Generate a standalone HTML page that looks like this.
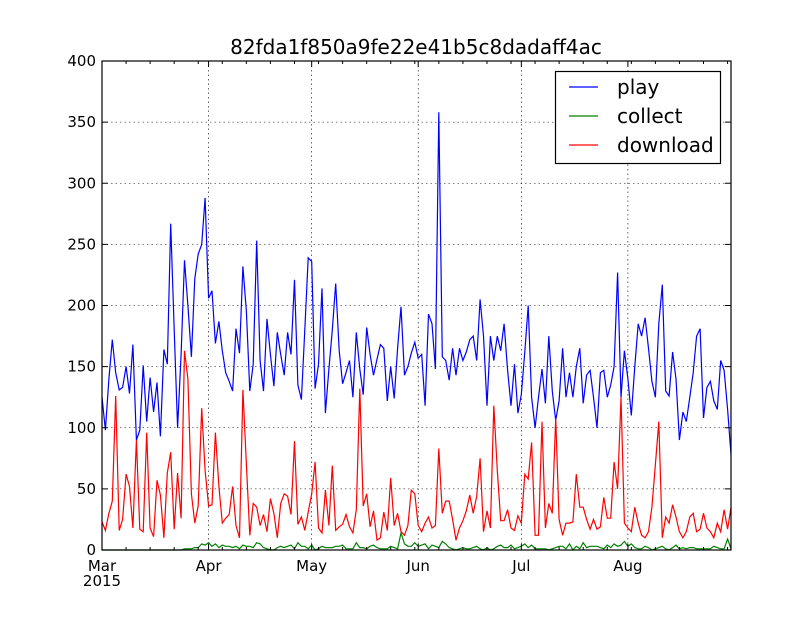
<!DOCTYPE html>
<html><head><meta charset="utf-8"><style>
body{margin:0;background:#fff;}
svg text{font-family:"DejaVu Sans","Liberation Sans",sans-serif;}
</style></head><body>
<svg id="chart" width="812" height="612" xmlns="http://www.w3.org/2000/svg">
<rect x="0" y="0" width="812" height="612" fill="#fff"/>
<text x="416" y="54" font-size="20" text-anchor="middle">82fda1f850a9fe22e41b5c8dadaff4ac</text>
<g id="grid"></g><g id="series"></g><g id="axes"></g>
<g>
<rect x="555.5" y="71.5" width="165" height="92" fill="#fff" stroke="#000" stroke-width="1.2"/>
<line x1="569" y1="87" x2="598" y2="87" stroke="#0000ff" stroke-width="1.2"/>
<text x="617" y="94" font-size="20">play</text>
<line x1="569" y1="116" x2="598" y2="116" stroke="#008000" stroke-width="1.2"/>
<text x="617" y="123" font-size="20">collect</text>
<line x1="569" y1="145" x2="598" y2="145" stroke="#ff0000" stroke-width="1.2"/>
<text x="617" y="152" font-size="20">download</text>
</g>
</svg>
<script>
const play=[125,98,140,172,145,131,133,150,128,168,90,98,151,105,141,113,137,93,164,152,267,180,100,160,237,200,158,222,242,250,288,206,212,169,187,163,145,138,130,181,161,232,195,130,152,253,155,130,189,160,134,178,160,143,178,160,221,135,123,180,239,236,132,152,214,112,148,180,218,163,136,145,155,125,178,148,127,182,160,143,156,168,165,122,150,124,165,199,143,150,161,170,157,160,118,193,185,148,358,158,155,139,165,143,165,155,162,172,175,155,205,175,118,175,155,175,163,185,147,118,152,112,127,162,200,125,100,125,148,120,175,130,106,122,165,125,145,125,150,165,120,143,147,125,100,145,147,125,135,150,227,125,163,140,110,150,185,175,190,165,138,125,185,217,130,126,162,140,90,113,105,125,145,175,181,108,133,138,122,115,155,147,115,78];
const collect=[0,0,0,0,0,0,0,0,0,0,0,0,0,0,0,0,0,0,0,0,0,0,0,0,1,1,1,2,2,5,4,6,3,5,2,4,3,3,2,3,1,4,3,3,2,6,5,2,1,0,0,2,3,2,3,4,1,6,3,3,1,4,0,1,3,2,2,2,3,3,4,1,1,1,6,2,2,1,3,4,2,1,1,1,3,2,1,14,5,3,3,6,3,4,5,1,4,3,2,7,5,2,1,0,1,2,1,1,2,3,1,0,2,0,1,3,4,2,2,4,1,2,3,5,2,4,1,1,1,1,0,1,2,3,3,1,5,0,3,1,6,2,3,3,3,2,1,4,2,5,3,4,7,3,5,2,1,1,3,2,0,1,2,3,1,0,2,4,1,2,1,2,2,1,1,1,1,1,3,2,1,1,9,1];
const download=[23,16,30,40,126,16,25,62,52,18,90,17,15,96,18,11,57,45,10,63,80,17,63,26,163,140,46,22,36,116,65,36,37,96,52,22,26,29,52,20,10,131,70,12,38,35,20,29,15,42,30,10,38,46,44,29,89,21,27,16,31,46,72,18,14,49,20,69,16,19,21,29,19,14,33,132,36,46,19,32,8,10,31,16,59,20,30,15,12,20,49,46,20,15,22,27,18,20,83,30,40,40,25,8,18,24,32,45,30,44,75,15,32,18,118,65,24,24,33,18,16,28,22,62,58,88,12,12,105,18,38,30,108,25,12,22,22,23,62,35,35,25,17,25,17,19,43,26,26,72,50,125,22,18,15,35,22,12,10,15,35,70,105,10,27,22,37,27,15,10,15,27,30,15,17,30,18,15,10,22,15,33,17,35];
const yTicks=[0,50,100,150,200,250,300,350,400];
const xTickDays=[0,31,61,92,122,153];
const xTickLabels=["Mar","Apr","May","Jun","Jul","Aug"];
const X0=102,X1=731,Y0=550,Y1=61,NDAYS=183;
const xs=d=>X0+(X1-X0)*d/NDAYS;
const ys=v=>Y0-(Y0-Y1)*v/400;
const NS="http://www.w3.org/2000/svg";
function mk(tag,attrs,parent){const e=document.createElementNS(NS,tag);for(const k in attrs)e.setAttribute(k,attrs[k]);parent.appendChild(e);return e;}
const grid=document.getElementById('grid'),ser=document.getElementById('series'),ax=document.getElementById('axes');
yTicks.forEach(v=>{
  const y=ys(v);
  if(v>0&&v<400){const g=mk('line',{x1:X0,x2:X1,y1:y,y2:y,stroke:'#000','stroke-width':0.6,'stroke-dasharray':'1.5,3'},grid);
  
  }
  mk('line',{x1:X0,x2:X0+6,y1:y,y2:y,stroke:'#000'},ax);
  mk('line',{x1:X1,x2:X1-6,y1:y,y2:y,stroke:'#000'},ax);
  const t=mk('text',{x:X0-6,y:y+5,'font-size':15,'text-anchor':'end'},ax);t.textContent=v;
  
  
});
for(let d=0;d<=NDAYS;d+=7){const x=xs(d);mk('line',{x1:x,x2:x,y1:Y0,y2:Y0-3,stroke:'#000'},ax);mk('line',{x1:x,x2:x,y1:Y1,y2:Y1+3,stroke:'#000'},ax);}
xTickDays.forEach((d,i)=>{
  const x=xs(d);
  if(d>0){const g=mk('line',{x1:x,x2:x,y1:Y1,y2:Y0,stroke:'#000','stroke-width':0.6,'stroke-dasharray':'1.5,3'},grid);
  
  }
  mk('line',{x1:x,x2:x,y1:Y0,y2:Y0-6,stroke:'#000'},ax);
  mk('line',{x1:x,x2:x,y1:Y1,y2:Y1+6,stroke:'#000'},ax);
  const t=mk('text',{x:x,y:Y0+21,'font-size':15,'text-anchor':'middle'},ax);t.textContent=xTickLabels[i];
  
  
});
const yr=mk('text',{x:xs(0),y:Y0+36,'font-size':15,'text-anchor':'middle'},ax);yr.textContent='2015';


const frame=mk('rect',{x:X0,y:Y1,width:X1-X0,height:Y0-Y1,fill:'none',stroke:'#000','stroke-width':1.2},ax);


function line(arr,color,name){
  const p=mk('polyline',{points:arr.map((v,i)=>xs(i).toFixed(1)+','+ys(v).toFixed(1)).join(' '),fill:'none',stroke:color,'stroke-width':1.2},ser);
  
  
}
line(play,'#0000ff','play-line');
line(collect,'#008000','collect-line');
line(download,'#ff0000','download-line');
</script>
</body></html>
